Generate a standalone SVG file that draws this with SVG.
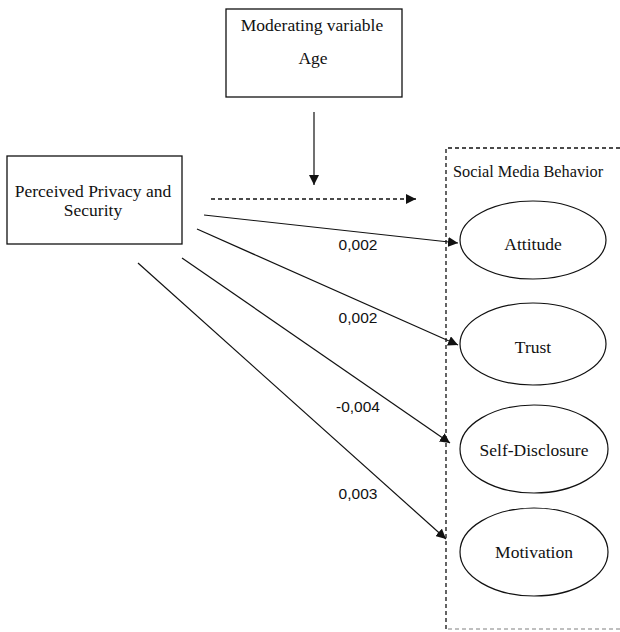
<svg xmlns="http://www.w3.org/2000/svg" width="620" height="632" viewBox="0 0 620 632">
<style>
text{font-family:"Liberation Serif","Times New Roman",serif;font-size:17.5px;fill:#111}
.box{fill:#fff;stroke:#111;stroke-width:1.3}
.ell{fill:#fff;stroke:#111;stroke-width:1.2}
.ln{stroke:#111;stroke-width:1.2;fill:none}
.dash{stroke:#111;stroke-width:1.3;fill:none;stroke-dasharray:4 3}
.lbl{font-family:"Liberation Sans",Arial,sans-serif;font-size:15.5px}
</style>
<defs>
<marker id="ah" viewBox="0 0 10 10" refX="10" refY="5" markerWidth="10" markerHeight="10" markerUnits="userSpaceOnUse" orient="auto">
<path d="M0,0 L10,5 L0,10 Z" fill="#111"/>
</marker>
</defs>
<rect width="620" height="632" fill="#fff"/>
<g id="group-smb">
<path class="dash" d="M620,148 L446,148 L446,632"/>
<path class="dash" style="stroke:#aaa" d="M448,629 L620,629"/>
<text x="453" y="177" style="font-size:16.3px">Social Media Behavior</text>
</g>
<g id="node-moderating">
<rect class="box" x="226" y="9" width="176" height="88"/>
<text x="312" y="31" text-anchor="middle">Moderating variable</text>
<text x="313" y="64" text-anchor="middle">Age</text>
</g>
<g id="node-pps">
<rect class="box" x="7" y="156" width="175" height="88"/>
<text x="93" y="197" text-anchor="middle">Perceived Privacy and</text>
<text x="93" y="216" text-anchor="middle">Security</text>
</g>
<g id="node-attitude">
<ellipse class="ell" cx="533" cy="240" rx="73" ry="39"/>
<text x="533" y="250" text-anchor="middle">Attitude</text>
</g>
<g id="node-trust">
<ellipse class="ell" cx="533" cy="344" rx="73" ry="41"/>
<text x="533" y="353" text-anchor="middle">Trust</text>
</g>
<g id="node-selfdisclosure">
<ellipse class="ell" cx="534" cy="449" rx="74" ry="44"/>
<text x="534" y="456" text-anchor="middle">Self-Disclosure</text>
</g>
<g id="node-motivation">
<ellipse class="ell" cx="534" cy="552" rx="74" ry="44"/>
<text x="534" y="558" text-anchor="middle">Motivation</text>
</g>
<g id="connectors">
<line class="ln" x1="314" y1="112" x2="314" y2="185" marker-end="url(#ah)"/>
<line class="dash" x1="211" y1="199" x2="416" y2="199" marker-end="url(#ah)"/>
<line class="ln" x1="204" y1="215" x2="458" y2="243" marker-end="url(#ah)"/>
<line class="ln" x1="197" y1="229" x2="458" y2="345" marker-end="url(#ah)"/>
<line class="ln" x1="182" y1="258" x2="450" y2="443" marker-end="url(#ah)"/>
<line class="ln" x1="138" y1="263" x2="446" y2="539" marker-end="url(#ah)"/>
<text class="lbl" x="358" y="250" text-anchor="middle">0,002</text>
<text class="lbl" x="358" y="323" text-anchor="middle">0,002</text>
<text class="lbl" x="358" y="412" text-anchor="middle">-0,004</text>
<text class="lbl" x="358" y="499" text-anchor="middle">0,003</text>
</g>
</svg>
